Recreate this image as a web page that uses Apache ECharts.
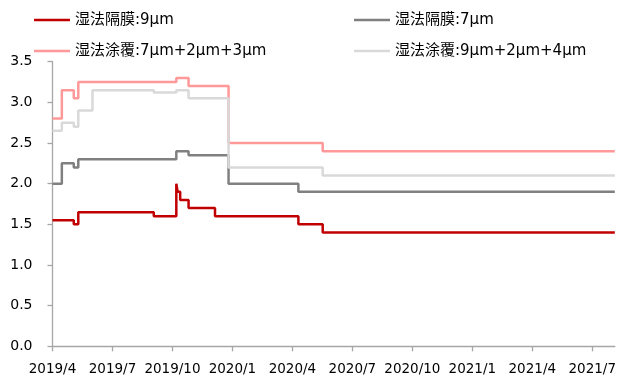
<!DOCTYPE html>
<html>
<head>
<meta charset="utf-8">
<script src="https://cdn.jsdelivr.net/npm/echarts@6/dist/echarts.min.js"></script>
<style>
html,body{margin:0;padding:0;background:#fff;}
#chart{width:619px;height:379px;}
</style>
</head>
<body>
<div id="chart"></div>
<script>
// ---- data ----
var seriesNames = ['湿法隔膜:9μm', '湿法隔膜:7μm', '湿法涂覆:7μm+2μm+3μm', '湿法涂覆:9μm+2μm+4μm'];
var xTickLabels = ['2019/4', '2019/7', '2019/10', '2020/1', '2020/4', '2020/7', '2020/10', '2021/1', '2021/4', '2021/7'];
var yTickLabels = ['0.0', '0.5', '1.0', '1.5', '2.0', '2.5', '3.0', '3.5'];
var endDate = '2021-08-05';

var wet9Dates  = ['2019-04-01','2019-05-03','2019-05-10','2019-09-03','2019-10-07','2019-10-09','2019-10-13','2019-10-26','2019-12-05','2020-04-10','2020-05-17','2021-08-05'];
var wet9Values = [1.55, 1.50, 1.65, 1.60, 2.00, 1.90, 1.80, 1.70, 1.60, 1.50, 1.40, 1.40];

var wet7Dates  = ['2019-04-01','2019-04-15','2019-05-03','2019-05-10','2019-10-07','2019-10-26','2019-12-26','2020-04-10','2021-08-05'];
var wet7Values = [2.00, 2.25, 2.20, 2.30, 2.40, 2.35, 2.00, 1.90, 1.90];

var coatADates  = ['2019-04-01','2019-04-15','2019-05-03','2019-05-10','2019-10-07','2019-10-26','2019-12-26','2020-05-17','2021-08-05'];
var coatAValues = [2.80, 3.15, 3.05, 3.25, 3.30, 3.20, 2.50, 2.40, 2.40];

var coatBDates  = ['2019-04-01','2019-04-15','2019-05-03','2019-05-10','2019-06-01','2019-09-03','2019-10-07','2019-10-26','2019-12-26','2020-05-17','2021-08-05'];
var coatBValues = [2.65, 2.75, 2.70, 2.90, 3.15, 3.12, 3.15, 3.05, 2.20, 2.10, 2.10];

// ---- helpers: date -> fractional month index since 2019/4 ----
var BASE_Y = 2019, BASE_M = 4;
function daysIn(y, m) { return new Date(y, m, 0).getDate(); }
function monthIndex(s) {
  var p = s.split(/[-\/]/).map(Number);
  var y = p[0], m = p[1], d = p[2] || 1;
  return (y - BASE_Y) * 12 + (m - BASE_M) + (d - 1) / daysIn(y, m);
}
function labelFor(v) {
  var total = Math.round(v) + (BASE_M - 1);
  var y = BASE_Y + Math.floor(total / 12);
  var m = total % 12 + 1;
  return y + '/' + m;
}
function pairs(dates, vals) { return dates.map(function (d, i) { return [monthIndex(d), vals[i]]; }); }

var xTickValues = xTickLabels.map(function (l) { return monthIndex(l); });

var colors = ['#C00000', '#808080', '#FF9999', '#D9D9D9'];
var dataSets = [pairs(wet9Dates, wet9Values), pairs(wet7Dates, wet7Values), pairs(coatADates, coatAValues), pairs(coatBDates, coatBValues)];

var FONT = '"DejaVu Sans", "Noto Sans CJK SC", sans-serif';
var legendPos = [[34, 11], [354, 11], [34, 42], [354, 42]];

var chart = echarts.init(document.getElementById('chart'), null, {renderer: 'canvas'});
chart.setOption({
  animation: false,
  backgroundColor: '#fff',
  textStyle: {fontFamily: FONT},
  legend: seriesNames.map(function (n, i) {
    return {
      data: [n],
      left: legendPos[i][0], top: legendPos[i][1],
      padding: 0,
      icon: 'rect',
      itemWidth: 36, itemHeight: 2.5,
      textStyle: {fontFamily: FONT, fontSize: 15, color: '#000', lineHeight: 18},
      selectedMode: false
    };
  }),
  grid: {left: 52.5, right: 2.3, top: 61.7, bottom: 32.7, containLabel: false},
  xAxis: {
    type: 'value',
    min: 0,
    max: monthIndex(endDate),
    interval: 3,
    splitLine: {show: false},
    axisLine: {lineStyle: {color: '#A6A6A6', width: 1.3}},
    axisTick: {show: true, length: 5, inside: false, customValues: xTickValues, lineStyle: {color: '#A6A6A6', width: 1.3}},
    axisLabel: {
      customValues: xTickValues,
      formatter: function (v) { return labelFor(v); },
      fontFamily: FONT, fontSize: 13.5, color: '#000', margin: 16
    }
  },
  yAxis: {
    type: 'value',
    min: 0, max: 3.5, interval: 0.5,
    splitLine: {show: false},
    axisLine: {show: true, lineStyle: {color: '#A6A6A6', width: 1.3}},
    axisTick: {show: true, length: 5, lineStyle: {color: '#A6A6A6', width: 1.3}},
    axisLabel: {
      formatter: function (v) { return yTickLabels[Math.round(v / 0.5)]; },
      fontFamily: FONT, fontSize: 14, color: '#000', margin: 20
    }
  },
  series: seriesNames.map(function (n, i) {
    return {
      name: n,
      type: 'line',
      step: 'end',
      data: dataSets[i],
      symbol: 'none',
      color: colors[i],
      lineStyle: {color: colors[i], width: 2.5},
      z: 2 + i
    };
  })
});
</script>
</body>
</html>
